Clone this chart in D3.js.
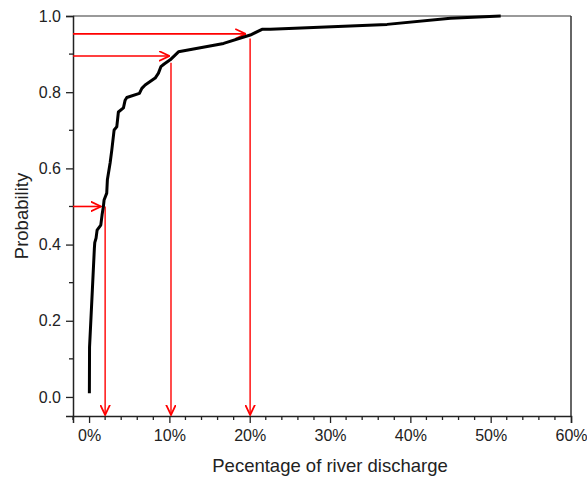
<!DOCTYPE html>
<html>
<head>
<meta charset="utf-8">
<script src="https://cdn.jsdelivr.net/npm/d3@7"></script>
<style>
  body { margin: 0; background: #fff; }
  svg text { font-family: "Liberation Sans", Arial, sans-serif; fill: #222; }
</style>
</head>
<body>
<div id="chart"></div>
<script>
// cumulative distribution
const pct  = [0.04, 0.06, 0.41, 0.66, 0.71, 0.87, 1.0, 1.46, 1.62, 1.78, 1.87, 2.2, 2.28, 2.62, 2.83,
              3.12, 3.45, 3.65, 4.28, 4.49, 4.7, 6.27, 6.57, 6.98, 8.23, 8.64, 8.94, 9.35, 10.1,
              11.13, 16.75, 20.07, 21.53, 22.57, 37.1, 45.0, 51.25];
const prob = [0.01, 0.131, 0.281, 0.39, 0.405, 0.417, 0.438, 0.451, 0.478, 0.499, 0.517, 0.535, 0.57, 0.614, 0.648,
              0.701, 0.709, 0.748, 0.759, 0.779, 0.786, 0.797, 0.81, 0.819, 0.837, 0.85, 0.867, 0.874, 0.885,
              0.906, 0.928, 0.95, 0.965, 0.965, 0.978, 0.994, 1.0];

// red reading arrows
const arrowProb   = [0.5, 0.895, 0.953];   // horizontal arrow level
const arrowHEnd   = [1.5, 10.0, 19.5];     // where the horizontal arrow stops (%)
const arrowPct    = [2.0, 10.2, 20.05];    // vertical arrow position (%)
const arrowVStart = [0.5, 0.877, 0.941];   // where the vertical arrow starts

const xTicks = [0, 10, 20, 30, 40, 50, 60];
const yTicks = [0.0, 0.2, 0.4, 0.6, 0.8, 1.0];
const xMinor = d3.range(-2, 60, 2).filter(v => v % 10 !== 0);
const yMinor = [0.1, 0.3, 0.5, 0.7, 0.9];

const width = 587, height = 481;
const L = 73, R = 571, T = 16, B = 416;

const svg = d3.select("#chart").append("svg")
  .attr("width", width).attr("height", height);

const x = d3.scaleLinear().domain([-2, 60]).range([L, R]);
const y = d3.scaleLinear().domain([-0.05, 1.0]).range([B, T]);

// frame (top + right)
svg.append("line").attr("x1", L).attr("x2", R).attr("y1", T).attr("y2", T)
  .attr("stroke", "#777").attr("stroke-width", 1.5);
svg.append("line").attr("x1", R).attr("x2", R).attr("y1", T).attr("y2", B)
  .attr("stroke", "#333").attr("stroke-width", 1.5);

// axes
const yAxis = svg.append("g").attr("transform", `translate(${L},0)`)
  .call(d3.axisLeft(y).tickValues(yTicks).tickFormat(d3.format(".1f")).tickSize(7).tickPadding(5));
const xAxis = svg.append("g").attr("transform", `translate(0,${B})`)
  .call(d3.axisBottom(x).tickValues(xTicks).tickFormat(d => d + "%").tickSize(7).tickPadding(7));

[yAxis, xAxis].forEach(g => {
  g.select(".domain").attr("stroke", "#222").attr("stroke-width", 1.5);
  g.selectAll(".tick line").attr("stroke", "#222").attr("stroke-width", 1.3);
  g.selectAll(".tick text").style("font-size", "16px").attr("fill", "#222");
});

// minor ticks
svg.append("g").selectAll("line").data(yMinor).join("line")
  .attr("x1", L - 4).attr("x2", L).attr("y1", d => y(d)).attr("y2", d => y(d))
  .attr("stroke", "#222").attr("stroke-width", 1.3);
svg.append("g").selectAll("line").data(xMinor).join("line")
  .attr("x1", d => x(d)).attr("x2", d => x(d)).attr("y1", B).attr("y2", B + 4)
  .attr("stroke", "#222").attr("stroke-width", 1.3);

// axis titles
svg.append("text").attr("x", 330).attr("y", 472)
  .attr("text-anchor", "middle").style("font-size", "18.5px")
  .text("Pecentage of river discharge");
svg.append("text")
  .attr("transform", `translate(28,${(T + B) / 2}) rotate(-90)`)
  .attr("text-anchor", "middle").style("font-size", "18.5px")
  .text("Probability");

// arrow marker
svg.append("defs").append("marker")
  .attr("id", "arrow")
  .attr("viewBox", "0 -5 10 10")
  .attr("refX", 9.5).attr("refY", 0)
  .attr("markerUnits", "userSpaceOnUse")
  .attr("markerWidth", 11).attr("markerHeight", 11)
  .attr("orient", "auto")
  .append("path")
  .attr("d", "M0,-4.5L9.5,0L0,4.5")
  .attr("fill", "none").attr("stroke", "#ff0000").attr("stroke-width", 1.6);

const arrows = svg.append("g");
arrowProb.forEach((p, i) => {
  arrows.append("line")
    .attr("x1", L).attr("y1", y(p)).attr("x2", x(arrowHEnd[i])).attr("y2", y(p))
    .attr("stroke", "#ff0000").attr("stroke-width", 1.6).attr("marker-end", "url(#arrow)");
  arrows.append("line")
    .attr("x1", x(arrowPct[i])).attr("y1", y(arrowVStart[i]))
    .attr("x2", x(arrowPct[i])).attr("y2", B - 1)
    .attr("stroke", "#ff0000").attr("stroke-width", 1.4).attr("marker-end", "url(#arrow)");
});

// CDF curve
const pts = pct.map((v, i) => [v, prob[i]]);
svg.append("path").datum(pts)
  .attr("fill", "none").attr("stroke", "#000").attr("stroke-width", 3)
  .attr("stroke-linejoin", "round")
  .attr("d", d3.line().x(d => x(d[0])).y(d => y(d[1])));
</script>
</body>
</html>
